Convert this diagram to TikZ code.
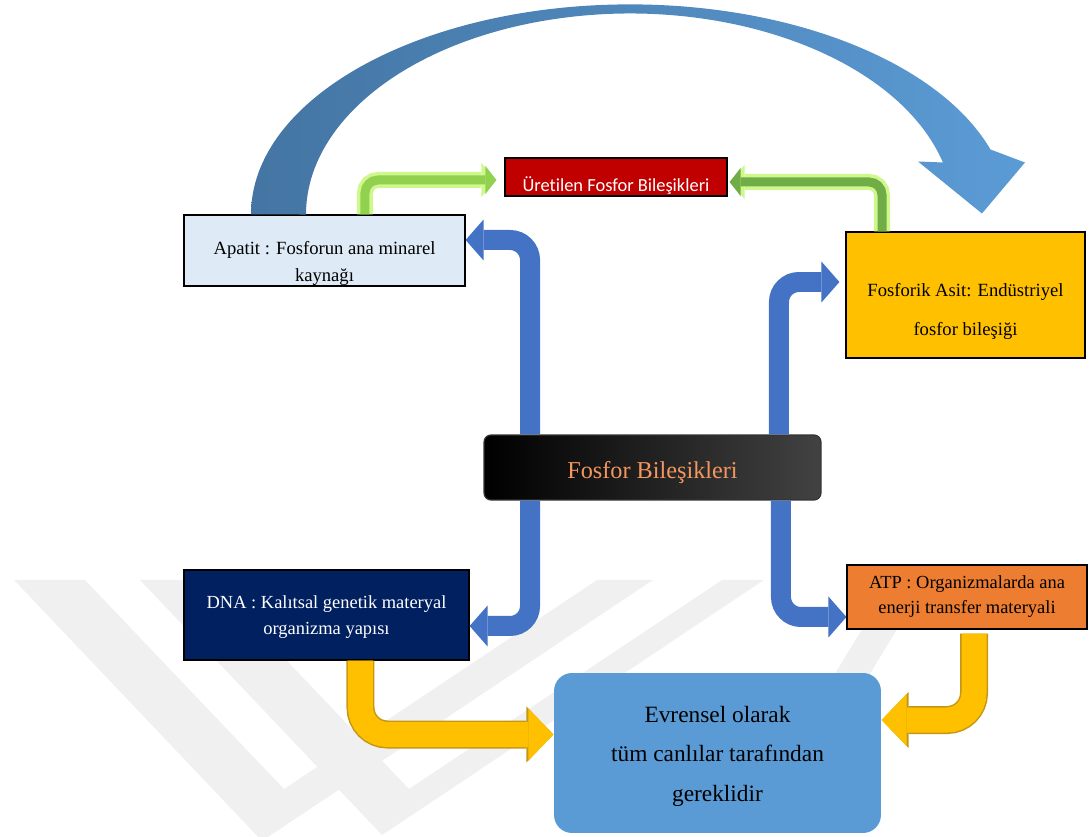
\documentclass[tikz,border=0pt]{standalone}
\usepackage{fontspec}
\setmainfont{Liberation Serif}
\newfontfamily\calibfont[Ligatures=NoCommon]{Carlito}
\usetikzlibrary{arrows.meta, calc}

\definecolor{apatitfill}{RGB}{222,235,247}
\definecolor{uretred}{RGB}{192,0,0}
\definecolor{fosyellow}{RGB}{255,192,0}
\definecolor{dnanavy}{RGB}{0,32,96}
\definecolor{atporange}{RGB}{237,125,49}
\definecolor{evrblue}{RGB}{91,155,213}
\definecolor{arrblue}{RGB}{68,114,196}
\definecolor{arcdark}{RGB}{68,117,163}
\definecolor{arclight}{RGB}{91,155,213}
\definecolor{ylwline}{RGB}{196,150,20}
\definecolor{grnglow}{RGB}{206,248,140}
\definecolor{grnlight}{RGB}{146,208,80}
\definecolor{grndark}{RGB}{112,173,71}
\definecolor{fbtext}{RGB}{245,150,95}
\definecolor{fbgray}{RGB}{66,66,66}
\definecolor{wmgray}{RGB}{240,240,240}

\tikzset{
  box/.style     = {draw, line width=0.7pt, rectangle, align=center, inner sep=0pt},
  wmark/.style   = {fill=wmgray},
  bluearr/.style = {draw=arrblue, line width=0.4cm, rounded corners=0.4cm,
                    -{Triangle[length=0.36cm, width=0.82cm, line width=0pt]}},
  ylwarr/.style  = {draw=fosyellow, line width=0.5cm, rounded corners=0.54cm,
                    -{Triangle[length=0.5cm, width=1.04cm, line width=0pt]},
                    preaction={draw=ylwline, line width=0.56cm,
                      -{Triangle[length=0.54cm, width=1.12cm, line width=0pt]}}},
  grnarr/.style  = {line width=0.18cm, rounded corners=0.26cm,
                    -{Triangle[length=0.22cm, width=0.56cm, line width=0pt]},
                    preaction={draw=grnglow, line width=0.32cm,
                      -{Triangle[length=0.3cm, width=0.68cm, line width=0pt]}}}
}

\begin{document}
\begin{tikzpicture}[x=0.02cm, y=-0.02cm]

  \useasboundingbox (0,0) rectangle (1089,837);

  % ── Watermark (faint chevrons) ────────────────────────────────────────────
  \begin{scope}
    \clip (0,578) rectangle (1089,837);
    \fill[wmark] (14,580) -- (85,580) -- (284,789) -- (597,580) -- (653,580)
                 -- (262,841) -- cycle;
    \fill[wmark] (140,580) -- (210,580) -- (409,789) -- (722,580) -- (764,580)
                 -- (382,835) -- cycle;
    \fill[wmark] (880,600) -- (915,600) -- (860,690) -- (825,690) -- cycle;
  \end{scope}

  % ── Boxes ─────────────────────────────────────────────────────────────────
  \node[box, fill=apatitfill, minimum width=5.62cm, minimum height=1.42cm,
        font=\fontsize{10.6}{15.9}\selectfont] (apatit) at (324.5,250.5)
        {\rule{0pt}{22.2pt}Apatit : Fosforun ana minarel\\ kaynağı};
  \node[box, fill=uretred, text=white, minimum width=4.44cm, minimum height=0.76cm,
        font=\calibfont\fontsize{10.5}{12}\selectfont] (uret) at (616,177)
        {\rule{0pt}{18pt}Üretilen Fosfor Bileşikleri};
  \node[box, fill=fosyellow, minimum width=4.78cm, minimum height=2.52cm,
        font=\fontsize{10.6}{22.1}\selectfont] (fosforik) at (965.5,295)
        {\rule{0pt}{26.6pt}Fosforik Asit: Endüstriyel\\ fosfor bileşiği};
  \node[box, draw=black!80, rounded corners=0.14cm, left color=black,
        middle color=black, right color=fbgray, text=fbtext,
        minimum width=6.74cm, minimum height=1.30cm,
        font=\fontsize{13.8}{16}\selectfont] (fb) at (652.5,467.5)
        {\rule{0pt}{15.9pt}Fosfor Bileşikleri};
  \node[box, fill=dnanavy, text=white, minimum width=5.70cm, minimum height=1.80cm,
        font=\fontsize{10.5}{15.3}\selectfont] (dna) at (326.5,615)
        {\rule{0pt}{9.6pt}DNA : Kalıtsal genetik materyal\\ organizma yapısı};
  \node[box, fill=atporange, minimum width=4.80cm, minimum height=1.28cm,
        font=\fontsize{10.5}{14.2}\selectfont] (atp) at (967,597)
        {ATP : Organizmalarda ana\\ enerji transfer materyali};
  \node[box, draw=none, fill=evrblue, rounded corners=0.36cm,
        minimum width=6.54cm, minimum height=3.20cm,
        font=\fontsize{13.3}{22.7}\selectfont] (evrensel) at (717.5,753)
        {\rule{0pt}{13.1pt}Evrensel olarak\\ tüm canlılar tarafından\\ gereklidir};

  % ── Big curved arrow (Apatit -> Fosforik) ─────────────────────────────────
  \shade[left color=arcdark, right color=arclight]
    ([xshift=-1.47cm]apatit.north)
      arc[start angle=180, end angle=342, x radius=379, y radius=210]
      -- ++(34.5,13) -- ++(-43,51) -- ++(-64,-52) -- ++(25,1)
      arc[start angle=345, end angle=180, x radius=324, y radius=201]
      -- cycle;

  % ── Green arrows to Üretilen ──────────────────────────────────────────────
  \draw[grnarr, draw=grnlight] ([xshift=0.81cm]apatit.north)
    |- ([xshift=-0.16cm, yshift=-0.06cm]uret.west);
  \draw[grnarr, draw=grndark] ([xshift=-1.67cm]fosforik.north)
    |- ([xshift=0.04cm, yshift=-0.1cm]uret.east);

  % ── Blue arrows out of Fosfor Bileşikleri ─────────────────────────────────
  \draw[bluearr] ([xshift=-2.45cm]fb.north) |- ([yshift=0.21cm]apatit.east);
  \draw[bluearr] ([xshift=2.53cm]fb.north)
    |- ([xshift=-0.12cm, yshift=0.26cm]fosforik.west);
  \draw[bluearr] ([xshift=-2.45cm]fb.south) |- ([yshift=-0.22cm]dna.east);
  \draw[bluearr] ([xshift=2.57cm]fb.south) |- ([yshift=-0.4cm]atp.west);

  % ── Yellow arrows into Evrensel ───────────────────────────────────────────
  \draw[ylwarr] ([xshift=0.68cm]dna.south) |- ([yshift=0.37cm]evrensel.west);
  \draw[ylwarr] ([xshift=0.14cm, yshift=-0.08cm]atp.south)
    |- ([yshift=0.66cm]evrensel.east);

\end{tikzpicture}
\end{document}
